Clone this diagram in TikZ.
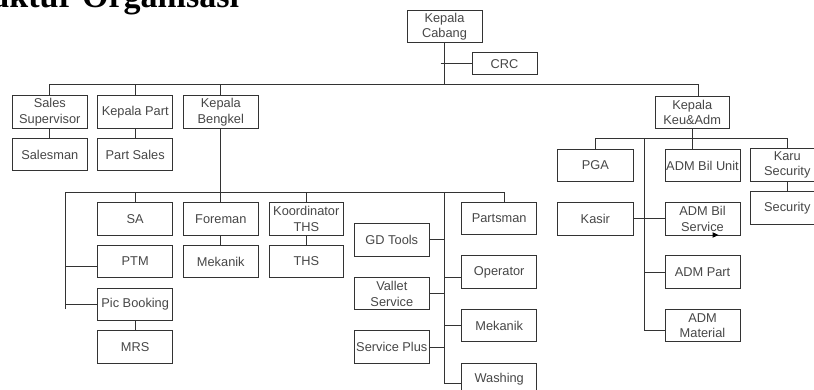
\documentclass[tikz,border=0pt]{standalone}
\usepackage{fontspec}
\setmainfont{Liberation Sans}
\newfontfamily\titlefont{Liberation Serif}
\definecolor{linecol}{HTML}{333333}
\definecolor{textcol}{HTML}{474747}
\begin{document}
\begin{tikzpicture}[x=1pt,y=-1pt,
  box/.style={draw=linecol, line width=1pt, fill=white, inner sep=0pt,
    minimum width=75pt, minimum height=32.5pt, align=center,
    text=textcol, font=\fontsize{12.8}{15.5}\selectfont},
  link/.style={draw=linecol, line width=1pt}]
  \clip (0,0) rectangle (814,390);
  \fill[white] (0,0) rectangle (814,390);
  % title, cut at the top edge
  \node[anchor=base west, inner sep=0pt] (title) at (-55,8)
    {\titlefont\fontsize{34}{34}\selectfont\bfseries Struktur Organisasi};
  % top level
  \node[box] (kc) at (444.5,26.5) {Kepala\\Cabang};
  \node[box, minimum width=65pt, minimum height=22pt] (crc) at (504.5,63.7) {CRC};
  \node[box] (ss) at (49.8,112) {Sales\\Supervisor};
  \node[box] (kp) at (135.2,112) {Kepala Part};
  \node[box] (kb) at (220.8,112) {Kepala\\Bengkel};
  \node[box, minimum width=74.3pt] (kka) at (692.2,112.5) {Kepala\\Keu\&Adm};
  \node[box] (sm) at (49.8,154.7) {Salesman};
  \node[box] (ps) at (135.2,154.7) {Part Sales};
  % bengkel
  \node[box] (sa) at (135.2,218.8) {SA};
  \node[box] (fm) at (220.8,218.8) {Foreman};
  \node[box, minimum width=74pt] (kt) at (306.3,219) {Koordinator\\THS};
  \node[box] (ptm) at (135.2,261.5) {PTM};
  \node[box] (mk1) at (220.8,261.5) {Mekanik};
  \node[box, minimum width=74pt] (ths) at (306.3,261.5) {THS};
  \node[box] (pb) at (135.2,304.5) {Pic Booking};
  \node[box] (mrs) at (135.2,347.2) {MRS};
  \node[box] (gd) at (391.8,240) {GD Tools};
  \node[box] (vs) at (391.8,293.7) {Vallet\\Service};
  \node[box] (sp) at (391.8,347.2) {Service Plus};
  \node[box] (pm) at (499.2,218.5) {Partsman};
  \node[box] (op) at (499.2,272.2) {Operator};
  \node[box] (mk2) at (499.2,325.5) {Mekanik};
  \node[box] (wa) at (499.2,379.5) {Washing};
  % keuangan
  \node[box, minimum width=76pt] (pga) at (595.3,165.5) {PGA};
  \node[box] (abu) at (702.5,165.5) {ADM Bil Unit};
  \node[box, minimum width=73pt] (karu) at (787.3,165) {Karu\\Security};
  \node[box, minimum width=73pt] (sec) at (787.3,207.9) {Security};
  \node[box, minimum width=76pt] (kasir) at (595.3,218.8) {Kasir};
  \node[box] (abs) at (702.5,218.8) {ADM Bil\\Service};
  \node[box] (ap) at (702.5,272.2) {ADM Part};
  \node[box] (am) at (702.5,325.5) {ADM\\Material};
  % junction points
  \coordinate (mainR) at (698.3,85);
  \coordinate (crcstub) at (440.7,63.7);
  \coordinate (bengkelL) at (65.7,192.3);
  \coordinate (bengkelR) at (504.3,192.3);
  \coordinate (bengkelB) at (65.7,309);
  \coordinate (ptmjoin) at (65.7,266.7);
  \coordinate (spine) at (444.3,192.3);
  \coordinate (spineB) at (444.3,383.3);
  \coordinate (keuR) at (787.3,139);
  \coordinate (keuspine) at (644,139);
  \coordinate (keuspineB) at (644,330.7);
  % top connectors
  \path[link] (ss.north) -- (ss.north |- mainR) -- (mainR) -- (mainR |- kka.north);
  \path[link] (kp.north) -- (kp.north |- mainR);
  \path[link] (kb.north) -- (kb.north |- mainR);
  \path[link] (kc.south) -- (kc.south |- mainR);
  \path[link] (crcstub) -- (crc.west);
  \path[link] (ss.south) -- (sm.north);
  \path[link] (kp.south) -- (ps.north);
  % bengkel connectors
  \path[link] (kb.south) -- (kb.south |- bengkelR);
  \path[link] (bengkelB) -- (bengkelL) -- (bengkelR) -- (bengkelR |- pm.north);
  \path[link] (sa.north) -- (sa.north |- bengkelL);
  \path[link] (fm.north) -- (fm.north |- bengkelL);
  \path[link] (kt.north) -- (kt.north |- bengkelL);
  \path[link] (ptmjoin) -- (ptmjoin -| ptm.west);
  \path[link] (bengkelL |- pb.west) -- (pb.west);
  \path[link] (pb.south) -- (mrs.north);
  \path[link] (fm.south) -- (mk1.north);
  \path[link] (kt.south) -- (ths.north);
  \path[link] (spine) -- (spineB) -- (spineB -| wa.west);
  \path[link] (gd.east) -- (gd.east -| spine);
  \path[link] (vs.east) -- (vs.east -| spine);
  \path[link] (sp.east) -- (sp.east -| spine);
  \path[link] ([yshift=-5.5pt]op.west) -- ++(-17.4,0);
  \path[link] (mk2.west) -- (mk2.west -| spine);
  % keuangan connectors
  \path[link] (pga.north) -- (pga.north |- keuR) -- (keuR) -- (karu.north);
  \path[link] (kka.south) -- (kka.south |- abu.north);
  \path[link] (keuspine) -- (keuspineB) -- (keuspineB -| am.west);
  \path[link] (kasir.east) -- (abs.west);
  \path[link] (ap.west) -- (ap.west -| keuspine);
  \path[link] (karu.south) -- (sec.north);
  \fill[black] (712.5,232.2) -- (718.5,235) -- (712.5,237.8) -- cycle;
\end{tikzpicture}
\end{document}
